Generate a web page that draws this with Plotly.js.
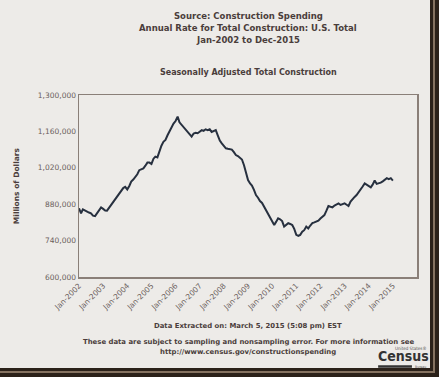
<!DOCTYPE html>
<html>
<head>
<meta charset="utf-8">
<script src="https://cdn.plot.ly/plotly-3.0.1.min.js"></script>
<style>
  html, body { margin: 0; padding: 0; width: 439px; height: 377px; overflow: hidden; background: #2b2119; }
  #f2 { position: absolute; left: 0; top: 0; width: 435px; height: 373px; background: #857260; }
  #f3 { position: absolute; left: 0; top: 0; width: 433px; height: 371px; background: #2b2119; }
  #chart { position: absolute; left: 0; top: 0; width: 430px; height: 368px; background: #edebe8; }
</style>
</head>
<body>
<div id="f2"></div>
<div id="f3"></div>
<div id="chart"></div>
<script>
// Monthly seasonally adjusted annual rate, millions of dollars, Jan-2002 .. Jan-2015
const startYear = 2002;
const spending = [
  864, 845, 860, 855, 852, 848, 845, 836, 834, 845, 856, 868,   // 2002
  862, 856, 855, 866, 876, 886, 898, 908, 920, 930, 942, 947,   // 2003
  937, 950, 967, 975, 983, 995, 1011, 1015, 1018, 1028, 1040, 1040, // 2004
  1035, 1055, 1063, 1060, 1085, 1105, 1120, 1127, 1145, 1160, 1178, 1190, // 2005
  1200, 1217, 1195, 1186, 1178, 1170, 1160, 1150, 1140, 1152, 1155, 1153, // 2006
  1158, 1165, 1162, 1168, 1165, 1168, 1158, 1163, 1165, 1145, 1125, 1114, // 2007
  1105, 1095, 1093, 1092, 1090, 1080, 1069, 1065, 1060, 1052, 1030, 1000, // 2008
  973, 960, 952, 935, 915, 905, 892, 885, 870, 858, 845, 830,   // 2009
  815, 800, 812, 826, 822, 815, 794, 800, 807, 804, 800, 785,   // 2010
  762, 758, 762, 774, 780, 794, 787, 798, 807, 810, 813, 817,   // 2011
  825, 830, 838, 855, 873, 870, 868, 875, 880, 883, 877, 880,   // 2012
  883, 878, 873, 890, 900, 908, 915, 925, 935, 948, 960, 955,   // 2013
  950, 945, 955, 971, 958, 960, 963, 968, 973, 980, 976, 980,   // 2014
  971                                                           // 2015
].map(v => v * 1000);

const tickYears = [2002, 2003, 2004, 2005, 2006, 2007, 2008, 2009, 2010, 2011, 2012, 2013, 2014, 2015];
const tickLabels = tickYears.map(y => 'Jan-' + y);
const yTicks = [600000, 740000, 880000, 1020000, 1160000, 1300000];

const months = spending.map((_, i) => {
  const y = startYear + Math.floor(i / 12);
  const m = (i % 12) + 1;
  return y + '-' + String(m).padStart(2, '0') + '-01';
});
const tickDates = tickYears.map(y => y + '-01-01');

const txt = '#4a3d3b';
const tickCol = '#6a605c';
const fam = 'DejaVu Sans, Verdana, sans-serif';
const condFam = 'DejaVu Sans Condensed, DejaVu Sans, sans-serif';

const trace = {
  x: months, y: spending, type: 'scatter', mode: 'lines',
  line: { color: '#27303f', width: 2 }, hoverinfo: 'skip'
};

function ann(text, x, y, size, extra) {
  return Object.assign({
    text: text, x: x, y: y, xref: 'paper', yref: 'paper', showarrow: false,
    xanchor: 'center', yanchor: 'middle',
    font: { family: fam, size: size, color: txt }
  }, extra || {});
}

const layout = {
  width: 430, height: 368,
  margin: { l: 79, r: 13, t: 95, b: 91 },
  paper_bgcolor: '#edebe8', plot_bgcolor: '#edebe8',
  showlegend: false,
  xaxis: {
    type: 'date', range: ['2002-01-01', '2016-01-01'],
    tickmode: 'array', tickvals: tickDates, ticktext: tickLabels,
    tickangle: -45, tickfont: { family: fam, size: 7.5, color: tickCol },
    showgrid: false, zeroline: false,
    showline: true, mirror: true, linecolor: '#8a7f78', linewidth: 1.5,
    ticks: '', fixedrange: true
  },
  yaxis: {
    range: [600000, 1300000],
    tickmode: 'array', tickvals: yTicks, tickformat: ',d',
    tickfont: { family: fam, size: 7.5, color: tickCol },
    showgrid: false, zeroline: false,
    showline: true, mirror: true, linecolor: '#8a7f78', linewidth: 1.5,
    ticks: '', fixedrange: true
  },
  annotations: [
    ann('<b>Source: Construction Spending</b>', 0.5, 1.434, 8.5),
    ann('<b>Annual Rate for Total Construction: U.S. Total</b>', 0.5, 1.368, 8.5),
    ann('<b>Jan-2002 to Dec-2015</b>', 0.5, 1.302, 8.5),
    ann('<b>Seasonally Adjusted Total Construction</b>', 0.5, 1.121, 8),
    ann('<b>Millions of Dollars</b>', -0.186, 0.5, 7.5, { textangle: -90 }),
    ann('<b>Data Extracted on: March 5, 2015 (5:08 pm) EST</b>', 0.5, -0.269, 6.9),
    ann('<b>These data are subject to sampling and nonsampling error. For more information see</b>', 0.5, -0.357, 6.9),
    ann('<b>http://www.census.gov/constructionspending</b>', 0.5, -0.412, 6.9),
    ann('United States\u00ae', 1.0325, -0.393, 4.5, { xanchor: 'right', font: { family: condFam, size: 4.5, color: '#555555' } }),
    ann('<b>Census</b>', 0.959, -0.491, 14, { yanchor: 'bottom', font: { family: condFam, size: 14, color: '#333333' } }),
    ann('Bureau', 1.0325, -0.497, 3.5, { xanchor: 'right', font: { family: condFam, size: 3.5, color: '#555555' } })
  ],
  shapes: [
    { type: 'line', xref: 'paper', yref: 'paper', x0: 0.885, x1: 0.985, y0: -0.492, y1: -0.492,
      line: { color: '#333333', width: 2.5 } }
  ]
};

Plotly.newPlot('chart', [trace], layout, { staticPlot: true, displayModeBar: false });
</script>
</body>
</html>
